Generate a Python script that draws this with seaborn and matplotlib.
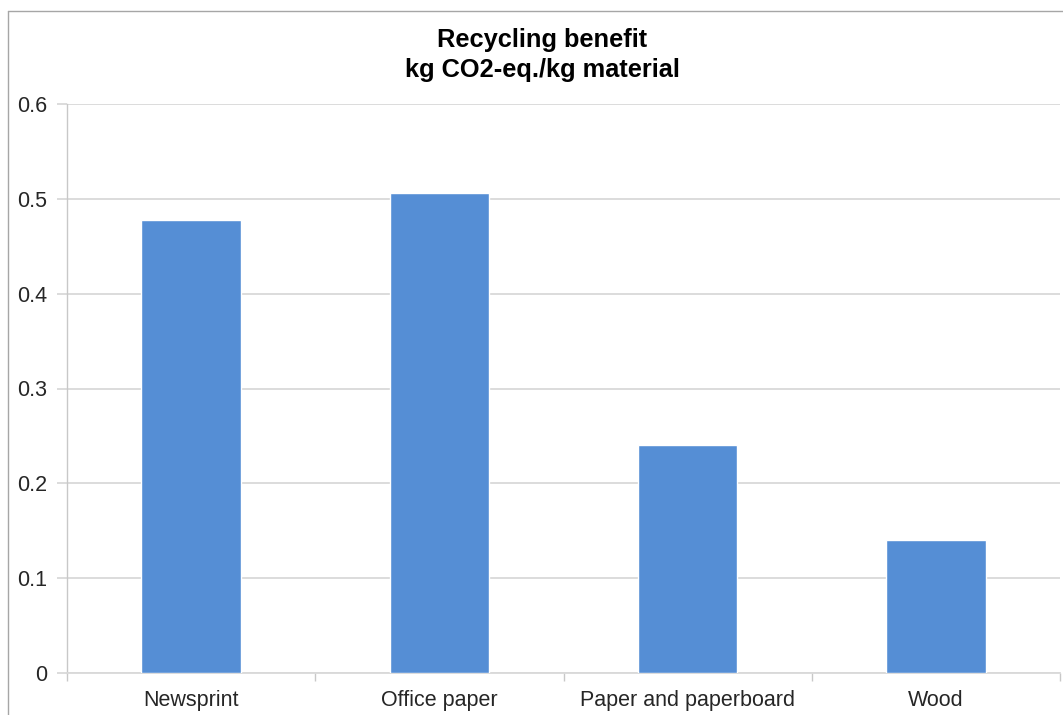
import matplotlib
matplotlib.use("Agg")
import matplotlib.pyplot as plt
from matplotlib.lines import Line2D
from matplotlib.ticker import FixedLocator
import seaborn as sns
import pandas as pd

categories = ["Newsprint", "Office paper", "Paper and paperboard", "Wood"]
values = [0.478, 0.506, 0.240, 0.140]
yticks = [0, 0.1, 0.2, 0.3, 0.4, 0.5, 0.6]
ytick_labels = ["0", "0.1", "0.2", "0.3", "0.4", "0.5", "0.6"]
title = "Recycling benefit\nkg CO2-eq./kg material"

sns.set_style("white")
plt.rcParams["font.family"] = ["Liberation Sans", "DejaVu Sans"]

df = pd.DataFrame({"cat": categories, "val": values})

W, H = 1063, 715
fig = plt.figure(figsize=(W / 100, H / 100), dpi=100)
ax = fig.add_axes([67 / W, (H - 673) / H, (1060 - 67) / W, (673 - 104) / H])

sns.barplot(data=df, x="cat", y="val", color="#558ED5", saturation=1,
            width=0.4, ax=ax, zorder=3)

grid_c = "#D9D9D9"
ax.set_ylim(0, 0.6)
ax.set_xlim(-0.5, 3.5)
ax.set_yticks(yticks)
ax.set_yticklabels(ytick_labels)
ax.yaxis.grid(True, color=grid_c, linewidth=1.3, zorder=0)
ax.set_axisbelow(True)
ax.set_xlabel("")
ax.set_ylabel("")

for s in ["top", "right"]:
    ax.spines[s].set_visible(False)
ax.spines["left"].set_color("#C8C8C8")
ax.spines["bottom"].set_color(grid_c)
ax.spines["left"].set_linewidth(1.0)
ax.spines["bottom"].set_linewidth(1.3)

ax.tick_params(axis="y", which="major", length=7, width=1.3, color=grid_c,
               labelsize=15.5, labelcolor="#262626", pad=7, left=True)
ax.tick_params(axis="x", which="major", length=0, labelsize=15.5,
               labelcolor="#262626", pad=12)
ax.xaxis.set_minor_locator(FixedLocator([-0.5, 0.5, 1.5, 2.5, 3.5]))
ax.tick_params(axis="x", which="minor", length=6, width=1.0,
               color="#C8C8C8", bottom=True, direction="out")

fig.text(542 / W, 1 - 55 / H, title, ha="center", va="center",
         fontsize=18.3, fontweight="bold", color="#000000", linespacing=1.3)

# outer chart border (partially cropped in reference)
fig.add_artist(Line2D([8 / W, 8 / W], [0, 1 - 11 / H], transform=fig.transFigure,
                      color="#A6A6A6", linewidth=1.0))
fig.add_artist(Line2D([8 / W, 1], [1 - 11 / H, 1 - 11 / H], transform=fig.transFigure,
                      color="#A6A6A6", linewidth=1.0))

fig.savefig("out.png", dpi=100, facecolor="white")
